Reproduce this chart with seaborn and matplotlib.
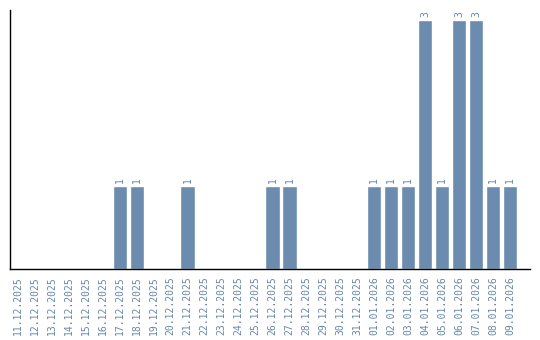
import matplotlib
matplotlib.use("Agg")
import matplotlib.pyplot as plt
import seaborn as sns
import pandas as pd

dates = ["11.12.2025", "12.12.2025", "13.12.2025", "14.12.2025", "15.12.2025",
         "16.12.2025", "17.12.2025", "18.12.2025", "19.12.2025", "20.12.2025",
         "21.12.2025", "22.12.2025", "23.12.2025", "24.12.2025", "25.12.2025",
         "26.12.2025", "27.12.2025", "28.12.2025", "29.12.2025", "30.12.2025",
         "31.12.2025", "01.01.2026", "02.01.2026", "03.01.2026", "04.01.2026",
         "05.01.2026", "06.01.2026", "07.01.2026", "08.01.2026", "09.01.2026"]
counts = [0, 0, 0, 0, 0, 0, 1, 1, 0, 0,
          1, 0, 0, 0, 0, 1, 1, 0, 0, 0,
          0, 1, 1, 1, 3, 1, 3, 3, 1, 1]

df = pd.DataFrame({"date": dates, "count": counts})

sns.set_style("white")
fig = plt.figure(figsize=(5.4, 3.4), dpi=100)
ax = fig.add_axes([10/540, 71/340, 520/540, 259/340])

bar_color = "#6b8cae"
text_color = "#6786a8"
sns.barplot(data=df, x="date", y="count", color=bar_color, width=0.85,
            saturation=1, ax=ax)

for c in ax.containers:
    labels = [str(int(v)) if v > 0 else "" for v in c.datavalues]
    ax.bar_label(c, labels=labels, rotation=90, padding=2, fontsize=7,
                 color=text_color, family="DejaVu Sans Mono")

ax.set_xlim(-0.47, len(dates) - 1 + 1.18)
ax.set_ylim(0, 3.12)
ax.set_xlabel("")
ax.set_ylabel("")
ax.set_yticks([])
ax.tick_params(axis="x", length=0, pad=5.5)
for lab in ax.get_xticklabels():
    lab.set_rotation(90)
    lab.set_fontsize(7)
    lab.set_color(text_color)
    lab.set_family("DejaVu Sans Mono")

for s in ["top", "right"]:
    ax.spines[s].set_visible(False)
for s in ["left", "bottom"]:
    ax.spines[s].set_visible(True)
    ax.spines[s].set_color("black")
    ax.spines[s].set_linewidth(1.0)

fig.savefig("out.png", dpi=100)
